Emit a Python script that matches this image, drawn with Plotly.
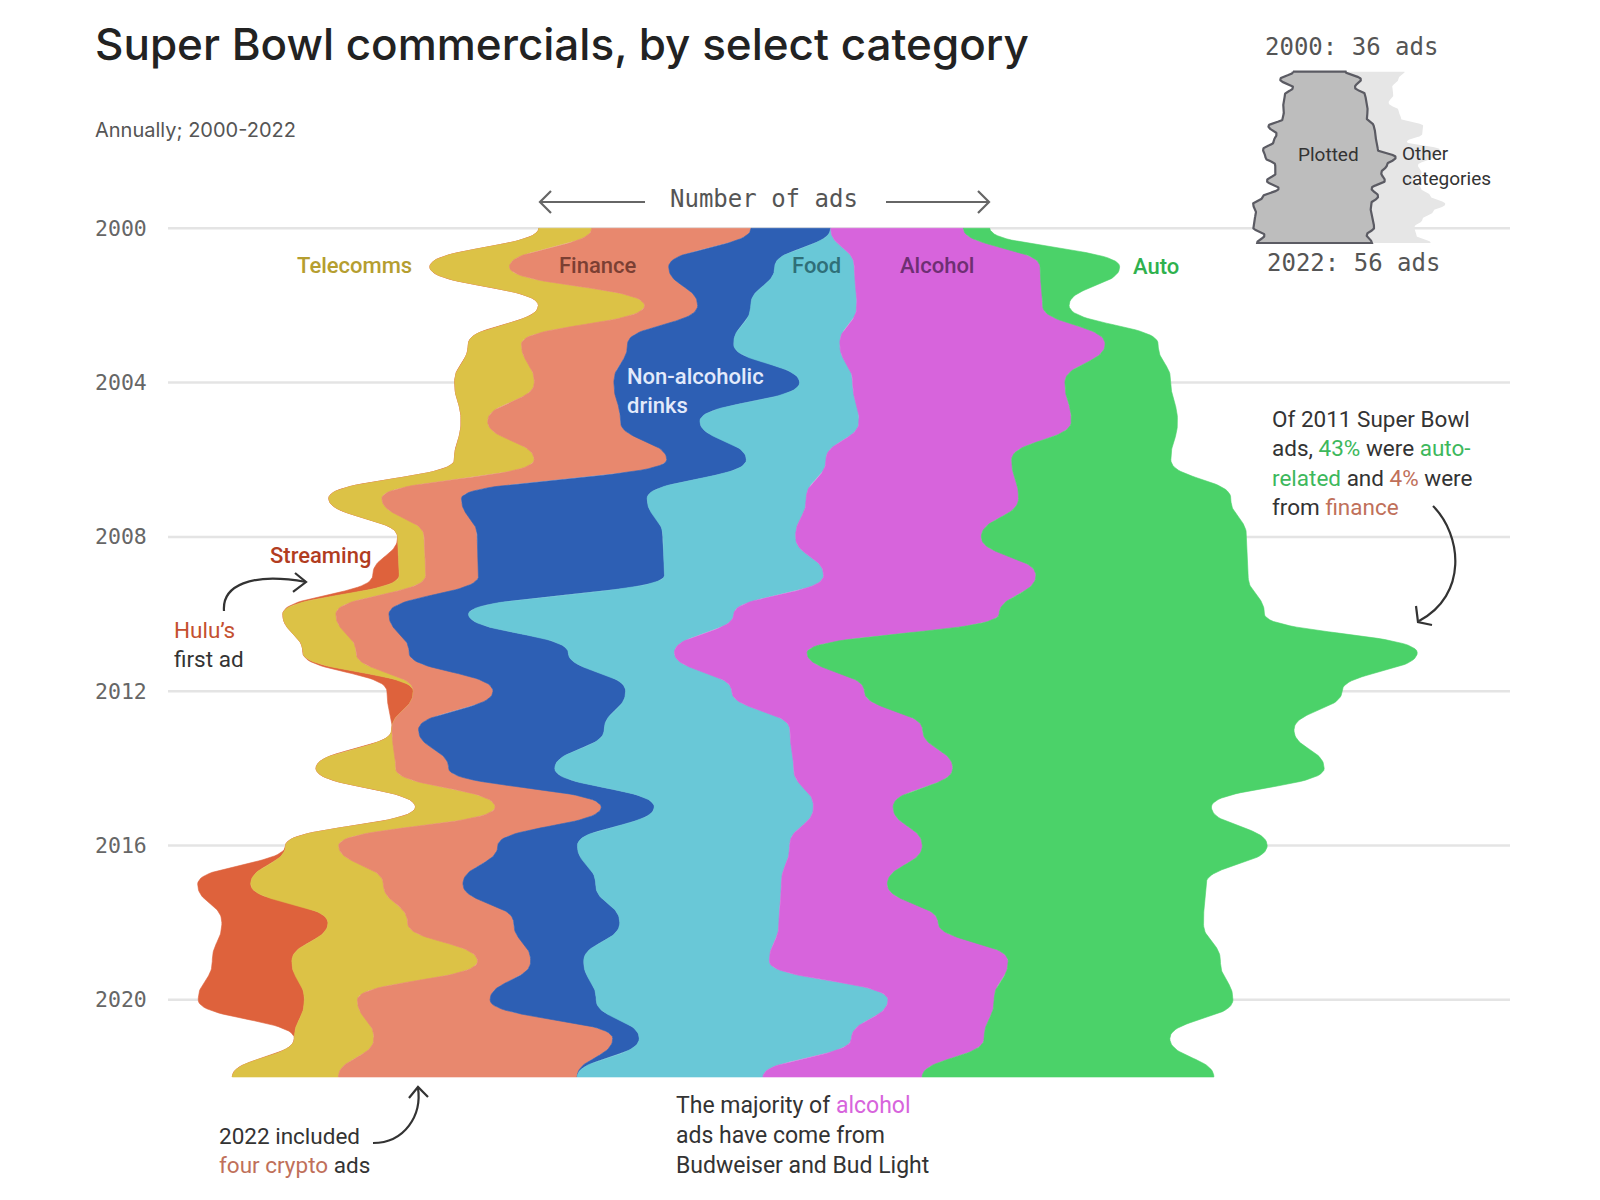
import numpy as np
import plotly.graph_objects as go

# ---------------- data (ads per year) ----------------
years = list(range(2000, 2023))
categories = ["Streaming", "Telecomms", "Finance", "Non-alcoholic drinks", "Food", "Alcohol", "Auto"]
streaming     = [0, 0, 0, 0, 0, 0, 0, 0, 0, 1, 0, 0, 1, 0, 0, 0, 0, 2, 4, 3, 4, 0, 0]
telecomms     = [2, 3, 4, 2, 3, 1, 3, 2, 1, 1, 2, 2, 0, 0, 3, 3, 2, 5, 3, 7, 2, 3, 4]
finance       = [6, 6, 2, 4, 3, 5, 5, 3, 2, 2, 2, 2, 3, 1, 2, 4, 6, 3, 4, 2, 5, 9, 9]
non_alcoholic = [3, 4, 2, 4, 7, 3, 3, 7, 7, 7, 3, 6, 5, 7, 4, 2, 3, 5, 4, 2, 4, 1, 0]
food          = [0, 3, 4, 4, 2, 6, 3, 6, 5, 6, 10, 4, 4, 7, 9, 6, 8, 7, 6, 7, 11, 8, 7]
alcohol       = [5, 7, 7, 10, 8, 8, 7, 8, 7, 8, 10, 5, 5, 5, 6, 3, 5, 4, 6, 9, 4, 5, 6]
auto          = [1, 3, 1, 2, 4, 4, 6, 8, 10, 8, 10, 23, 18, 14, 14, 12, 13, 12, 10, 8, 9, 7, 11]
# all remaining categories (not drawn in the main stream, stacked after "Auto")
other_ads     = [19, 12, 12, 9, 7, 10, 11, 16, 15, 10, 20, 12, 10, 13, 9, 16, 17, 24, 20, 16, 13, 16, 19]
grid_years = [2000, 2004, 2008, 2012, 2016, 2020]

series = [streaming, telecomms, finance, non_alcoholic, food, alcohol, auto]
colors = ["#DE623C", "#DCC246", "#E8886E", "#2D5FB4", "#69C8D7", "#D764DC", "#4BD269"]

W, H = 1600, 1200


def wiggle(layers):
    n, m = len(layers), len(layers[0])
    base = [0.0] * m
    y = 0.0
    for j in range(1, m):
        s1 = s2 = 0.0
        for i in range(n):
            a, b = layers[i][j], layers[i][j - 1]
            s3 = (a - b) / 2
            for k in range(i):
                s3 += layers[k][j] - layers[k][j - 1]
            s1 += a
            s2 += s3 * a
        base[j - 1] = y
        if s1:
            y -= s2 / s1
    base[m - 1] = y
    return base


def bump(xs, ys, n=28):
    px, py = [xs[0]], [ys[0]]
    t = np.linspace(0, 1, n)[1:]
    for a in range(len(xs) - 1):
        x0, y0, x1, y1 = xs[a], ys[a], xs[a + 1], ys[a + 1]
        ym = (y0 + y1) / 2
        bx = (1 - t) ** 3 * x0 + 3 * (1 - t) ** 2 * t * x0 + 3 * (1 - t) * t ** 2 * x1 + t ** 3 * x1
        by = (1 - t) ** 3 * y0 + 3 * (1 - t) ** 2 * t * ym + 3 * (1 - t) * t ** 2 * ym + t ** 3 * y1
        px += list(bx)
        py += list(by)
    return px, py


def stack_polys(layers, base):
    lower = np.array(base, dtype=float)
    polys = []
    for vals in layers:
        upper = lower + np.array(vals, dtype=float)
        lx, ly = bump(list(lower), years)
        ux, uy = bump(list(upper), years)
        polys.append((lx + ux[::-1] + [lx[0]], ly + uy[::-1] + [ly[0]]))
        lower = upper
    return polys


fig = go.Figure()

# ---------------- main streamgraph (wiggle offset over every category) ----------------
base = wiggle(series + [other_ads])
polys = stack_polys(series, base)
PX_PER_AD = 26.53
x_r0 = base[0] - 538.8 / PX_PER_AD
x_r1 = x_r0 + W / PX_PER_AD

for (px, py), name, col in zip(polys, categories, colors):
    fig.add_trace(go.Scatter(x=px, y=py, mode="lines", fill="toself", fillcolor=col,
                             line=dict(width=0.6, color=col), name=name, hoverinfo="name",
                             xaxis="x", yaxis="y"))

PX_PER_YEAR = (1077 - 228.3) / 22
y_top = 2000 - 228.3 / PX_PER_YEAR
y_bot = 2000 + (H - 228.3) / PX_PER_YEAR

# ---------------- inset: same stack, plotted total vs other categories ----------------
plotted = [sum(v) for v in zip(*series)]
ipolys = stack_polys([plotted, other_ads], base)
I_PX_PER_AD = 3.1
ix_r0 = base[0] - 1293 / I_PX_PER_AD
ix_r1 = ix_r0 + W / I_PX_PER_AD
I_PX_PER_YEAR = (243 - 71.7) / 22
iy_top = 2000 - 71.7 / I_PX_PER_YEAR
iy_bot = 2000 + (H - 71.7) / I_PX_PER_YEAR

(ox, oy) = ipolys[1]
fig.add_trace(go.Scatter(x=ox, y=oy, mode="lines", fill="toself", fillcolor="#E6E6E6",
                         line=dict(width=0), hoverinfo="skip", xaxis="x2", yaxis="y2"))
(ppx, ppy) = ipolys[0]
fig.add_trace(go.Scatter(x=ppx, y=ppy, mode="lines", fill="toself", fillcolor="#BDBDBD",
                         line=dict(width=2.2, color="#5B5B63"), hoverinfo="skip",
                         xaxis="x2", yaxis="y2"))


def P(x, y):
    return x / W, 1 - y / H


shapes = []
for gy in grid_years:
    shapes.append(dict(type="line", xref="paper", yref="y", x0=168 / W, x1=1510 / W, y0=gy, y1=gy,
                       line=dict(color="#E4E4E4", width=2.5), layer="below"))


def path_shape(cmd, color="#333333", width=2.2):
    return dict(type="path", xref="paper", yref="paper", path=cmd,
                line=dict(color=color, width=width), layer="above")


def fmt(x, y):
    a, b = P(x, y)
    return f"{a:.5f},{b:.5f}"


# Number of ads arrows
shapes.append(path_shape(f"M {fmt(645,202)} L {fmt(540,202)}", "#666666", 2.2))
shapes.append(path_shape(f"M {fmt(551,191)} L {fmt(540,202)} L {fmt(551,213)}", "#666666", 2.2))
shapes.append(path_shape(f"M {fmt(886,202)} L {fmt(989,202)}", "#666666", 2.2))
shapes.append(path_shape(f"M {fmt(978,191)} L {fmt(989,202)} L {fmt(978,213)}", "#666666", 2.2))

# Hulu arrow
shapes.append(path_shape(f"M {fmt(224,611)} C {fmt(222,586)} {fmt(250,572)} {fmt(306,582)}"))
shapes.append(path_shape(f"M {fmt(295,573)} L {fmt(306,582)} L {fmt(293,592)}"))
# crypto arrow
shapes.append(path_shape(f"M {fmt(373,1143)} C {fmt(405,1143)} {fmt(422,1115)} {fmt(418,1088)}"))
shapes.append(path_shape(f"M {fmt(409,1098)} L {fmt(418,1087)} L {fmt(428,1097)}"))
# 2011 arrow
shapes.append(path_shape(f"M {fmt(1433,506)} C {fmt(1462,535)} {fmt(1468,595)} {fmt(1419,621)}"))
shapes.append(path_shape(f"M {fmt(1416,606)} L {fmt(1418,622)} L {fmt(1432,625)}"))

annotations = []


def text(x, y, s, size=22, color="#333333", family="Roboto", xanchor="left", weight=400):
    a, b = P(x, y)
    annotations.append(dict(x=a, y=b, xref="paper", yref="paper", text=s, showarrow=False,
                            xanchor=xanchor, yanchor="middle", align="left",
                            font=dict(size=size, color=color, family=family, weight=weight)))


MONO = "DejaVu Sans Mono, Liberation Mono, monospace"
text(93, 44, "Super Bowl commercials, by select category", 44, "#222222", "Inter", weight=500)
text(93, 130, "Annually; 2000-2022", 20, "#555555", "Inter")
text(764, 199, "Number of ads", 24, "#555555", MONO, xanchor="center")
for gy in grid_years:
    yy = 228.3 + (gy - 2000) * PX_PER_YEAR
    text(93, yy, str(gy), 21.5, "#666666", MONO)

text(1351, 47, "2000: 36 ads", 24, "#555555", MONO, xanchor="center")
text(1353, 263, "2022: 56 ads", 24, "#555555", MONO, xanchor="center")
text(1328, 155, "Plotted", 19, "#333333", "Roboto", xanchor="center")
text(1400, 166, "Other<br>categories", 19, "#333333", "Roboto")

# category labels
text(354, 265, "Telecomms", 22, "#B59E30", "Roboto", xanchor="center", weight=500)
text(598, 265, "Finance", 22, "#7B3F33", "Roboto", xanchor="center", weight=500)
text(816, 265, "Food", 22, "#2F6F78", "Roboto", xanchor="center", weight=500)
text(937, 265, "Alcohol", 22, "#6E2F73", "Roboto", xanchor="center", weight=500)
text(1156, 266, "Auto", 22, "#2FB14E", "Roboto", xanchor="center", weight=500)
text(625, 391, "Non-alcoholic<br>drinks", 22, "#E3EAFB", "Roboto", weight=500)
text(320, 555, "Streaming", 22, "#B23D1F", "Roboto", xanchor="center", weight=500)

# notes
text(172, 644, "<span style='color:#C4502F'>Hulu’s</span><br>first ad", 22.5)
text(1270, 463, "Of 2011 Super Bowl<br>ads, <span style='color:#3DB85C'>43%</span> were "
     "<span style='color:#3DB85C'>auto-</span><br><span style='color:#3DB85C'>related</span> and "
     "<span style='color:#C0705A'>4%</span> were<br>from <span style='color:#C0705A'>finance</span>", 22.5)
text(217, 1150, "2022 included<br><span style='color:#C0705A'>four crypto</span> ads", 22.5)
text(674, 1135, "The majority of <span style='color:#D764DC'>alcohol</span><br>ads have come from<br>"
     "Budweiser and Bud Light", 23)

fig.update_layout(
    width=W, height=H, autosize=False,
    margin=dict(l=0, r=0, t=0, b=0),
    paper_bgcolor="white", plot_bgcolor="white",
    showlegend=False,
    xaxis=dict(range=[x_r0, x_r1], visible=False, domain=[0, 1]),
    yaxis=dict(range=[y_bot, y_top], visible=False, domain=[0, 1]),
    xaxis2=dict(range=[ix_r0, ix_r1], visible=False, overlaying="x", anchor="y2"),
    yaxis2=dict(range=[iy_bot, iy_top], visible=False, overlaying="y", anchor="x2"),
    shapes=shapes,
    annotations=annotations,
)

fig.write_html("out.html", config={"displayModeBar": False})
